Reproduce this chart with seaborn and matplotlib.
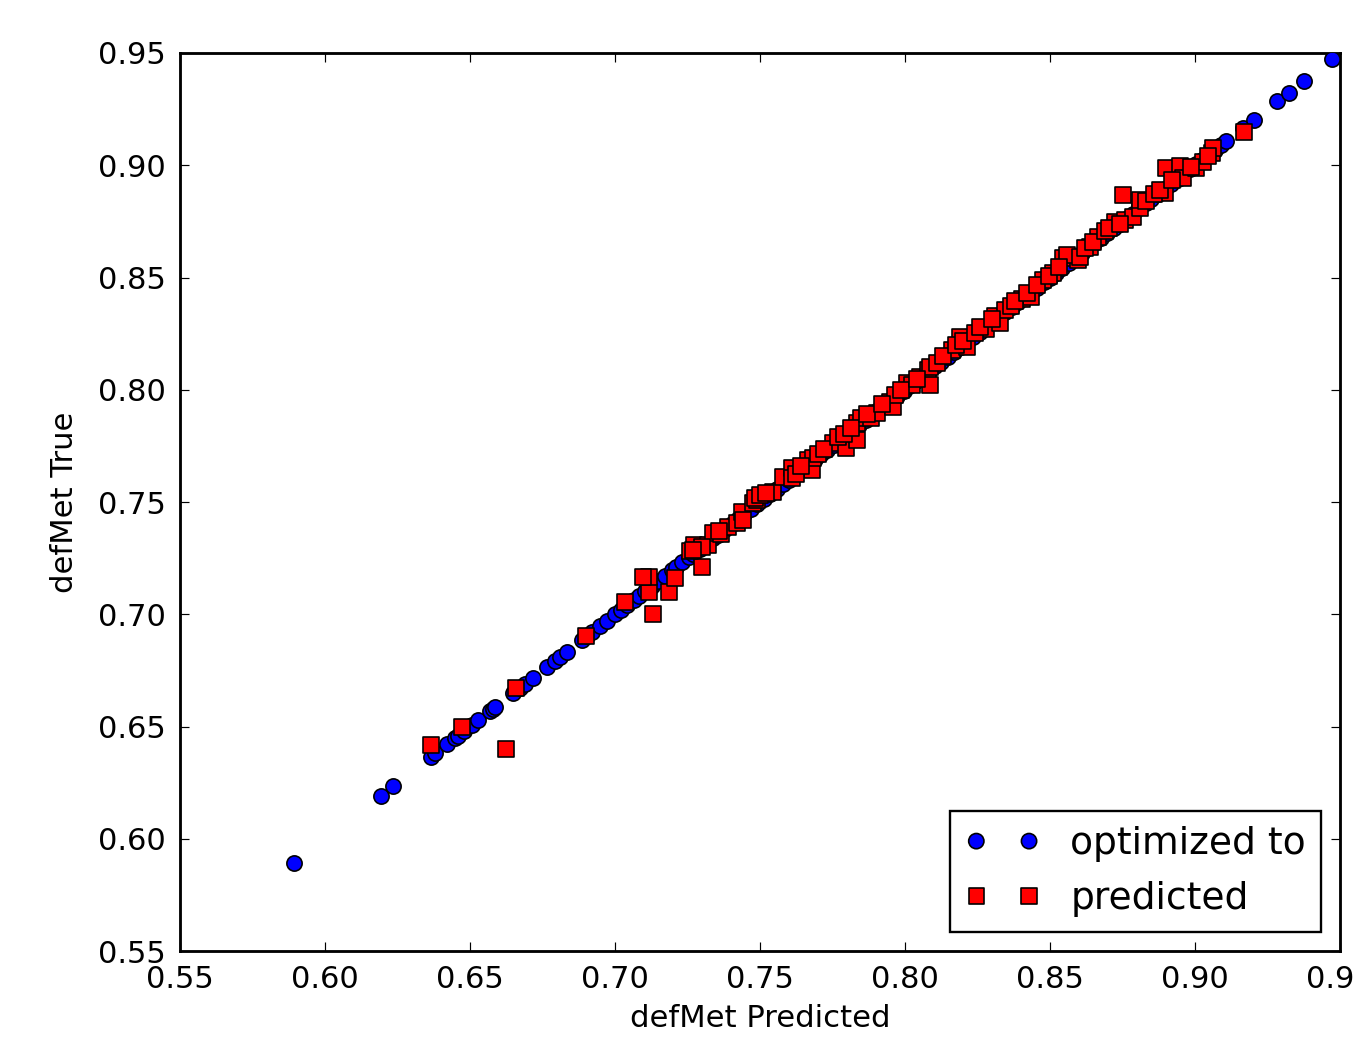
import matplotlib
matplotlib.use("Agg")
import matplotlib.pyplot as plt
import seaborn as sns
import pandas as pd

# blue points: optimized-to values (they sit on the diagonal, x == y)
optimized = [
    0.5893, 0.6192, 0.6236, 0.6366, 0.6380, 0.6420, 0.6448, 0.6460, 0.6478, 0.6506,
    0.6528, 0.6569, 0.6578, 0.6586, 0.6650, 0.6672, 0.6690, 0.6718, 0.6764, 0.6793,
    0.6810, 0.6833, 0.6885, 0.6905, 0.6920, 0.6948, 0.6971, 0.7000, 0.7020, 0.7040,
    0.7065, 0.7082, 0.7105, 0.7128, 0.7150, 0.7172, 0.7195, 0.7210, 0.7232, 0.7255,
    0.7270, 0.7292, 0.7315, 0.7338, 0.7355, 0.7380, 0.7402, 0.7425, 0.7446, 0.7470,
    0.7490, 0.7515, 0.7535, 0.7558, 0.7580, 0.7600, 0.7625, 0.7645, 0.7668, 0.7690,
    0.7712, 0.7730, 0.7755, 0.7778, 0.7800, 0.7820, 0.7842, 0.7865, 0.7885, 0.7908,
    0.7930, 0.7950, 0.7972, 0.7995, 0.8015, 0.8038, 0.8060, 0.8082, 0.8105, 0.8125,
    0.8148, 0.8170, 0.8192, 0.8212, 0.8235, 0.8258, 0.8280, 0.8300, 0.8322, 0.8345,
    0.8368, 0.8390, 0.8410, 0.8432, 0.8455, 0.8478, 0.8500, 0.8520, 0.8542, 0.8565,
    0.8588, 0.8610, 0.8630, 0.8652, 0.8675, 0.8698, 0.8720, 0.8740, 0.8762, 0.8785,
    0.8808, 0.8830, 0.8850, 0.8872, 0.8895, 0.8918, 0.8940, 0.8960, 0.8982, 0.9005,
    0.9025, 0.9048, 0.9070, 0.9090, 0.9107, 0.9166, 0.9203, 0.9284, 0.9324, 0.9376,
    0.9474,
]

# red squares: predicted (x) vs true (y)
pred_x = [
    0.6366, 0.6472, 0.6624, 0.6659, 0.6900,
    0.7034, 0.7130, 0.7118, 0.7118, 0.7098, 0.7186, 0.7207, 0.7299, 0.7259, 0.7272,
    0.7322, 0.7339, 0.7366, 0.7391, 0.7420, 0.7437, 0.7477, 0.7489,
    0.7483, 0.7546, 0.7580, 0.7609, 0.7609, 0.7667, 0.7679, 0.7683, 0.7753, 0.7797,
    0.7833, 0.7833, 0.7850, 0.7884, 0.7902, 0.7948, 0.7959, 0.7966, 0.8006, 0.8023,
    0.8052, 0.8081, 0.8086,
    0.8086, 0.8161, 0.8190, 0.8213, 0.8279, 0.8310, 0.8328, 0.8345, 0.8402, 0.8436,
    0.8477, 0.8511, 0.8546, 0.8598,
    0.8558, 0.8603, 0.8638, 0.8667, 0.8724, 0.8759, 0.8785, 0.8810, 0.8753, 0.8810,
    0.8897, 0.8900, 0.8948, 0.8960, 0.9003, 0.9029, 0.9057, 0.9063, 0.9169,
    0.7500, 0.7520, 0.7625, 0.7640, 0.7700, 0.7720, 0.7770, 0.7790, 0.7815, 0.7870,
    0.7920, 0.7985, 0.8040, 0.8110, 0.8130, 0.8175, 0.8200, 0.8240, 0.8260, 0.8300,
    0.8365, 0.8380, 0.8420, 0.8455, 0.8495, 0.8530, 0.8620, 0.8650, 0.8690, 0.8705,
    0.8740, 0.8830, 0.8860, 0.8880, 0.8920, 0.8985, 0.9045, 0.7440, 0.7360, 0.7300,
    0.7270,
]
pred_y = [
    0.6418, 0.6498, 0.6400, 0.6671, 0.6903,
    0.7056, 0.7001, 0.7098, 0.7164, 0.7167, 0.7098, 0.7160, 0.7212, 0.7282, 0.7308,
    0.7308, 0.7360, 0.7357, 0.7390, 0.7405, 0.7457, 0.7494, 0.7509,
    0.7516, 0.7546, 0.7613, 0.7650, 0.7605, 0.7687, 0.7643, 0.7694, 0.7761, 0.7742,
    0.7776, 0.7850, 0.7872, 0.7872, 0.7895, 0.7947, 0.7924, 0.7977, 0.8028, 0.8021,
    0.8058, 0.8088, 0.8021,
    0.8103, 0.8177, 0.8236, 0.8192, 0.8269, 0.8329, 0.8296, 0.8355, 0.8403, 0.8415,
    0.8489, 0.8520, 0.8585, 0.8578,
    0.8600, 0.8593, 0.8636, 0.8682, 0.8749, 0.8756, 0.8771, 0.8808, 0.8867, 0.8845,
    0.8875, 0.8986, 0.8997, 0.8942, 0.8986, 0.9016, 0.9053, 0.9075, 0.9150,
    0.7530, 0.7540, 0.7625, 0.7660, 0.7715, 0.7735, 0.7790, 0.7805, 0.7830, 0.7890,
    0.7935, 0.8000, 0.8050, 0.8120, 0.8150, 0.8200, 0.8215, 0.8255, 0.8280, 0.8315,
    0.8375, 0.8395, 0.8430, 0.8465, 0.8505, 0.8545, 0.8630, 0.8660, 0.8705, 0.8720,
    0.8740, 0.8840, 0.8870, 0.8890, 0.8935, 0.8990, 0.9040, 0.7420, 0.7370, 0.7300,
    0.7285,
]

ticks = [0.55, 0.60, 0.65, 0.70, 0.75, 0.80, 0.85, 0.90, 0.95]

sns.set_style("white")
plt.rcParams['font.family'] = ['DejaVu Sans']
plt.rcParams['text.color'] = 'black'
plt.rcParams['axes.labelcolor'] = 'black'

opt_df = pd.DataFrame({'x': optimized, 'y': optimized})
pred_df = pd.DataFrame({'x': pred_x, 'y': pred_y})

fig = plt.figure(figsize=(8, 6.118), dpi=169.5)
ax = fig.add_axes([0.1327, 0.0829, 0.8555, 0.866])

sns.scatterplot(data=opt_df, x='x', y='y', ax=ax, marker='o', color='#0000ff',
                edgecolor='black', linewidth=0.7, s=42, label='optimized to', zorder=3)
sns.scatterplot(data=pred_df, x='x', y='y', ax=ax, marker='s', color='#ff0000',
                edgecolor='black', linewidth=0.7, s=42, label='predicted', zorder=4)

ax.set_xlim(0.55, 0.95)
ax.set_ylim(0.55, 0.95)
ax.set_xticks(ticks)
ax.set_yticks(ticks)
ax.set_xticklabels([f'{t:.2f}' for t in ticks])
ax.set_yticklabels([f'{t:.2f}' for t in ticks])
ax.tick_params(direction='in', length=4, width=0.5, labelsize=13, pad=6,
               top=True, right=True, bottom=True, left=True, colors='black')

for sp in ax.spines.values():
    sp.set_color('black')
    sp.set_linewidth(1.2)

ax.set_xlabel('defMet Predicted', fontsize=13, labelpad=4)
ax.set_ylabel('defMet True', fontsize=13, labelpad=8)

leg = ax.legend(loc='lower right', scatterpoints=2, scatteryoffsets=[0.5],
                fontsize=16, fancybox=False, framealpha=1, edgecolor='black',
                borderaxespad=0.5)
leg.get_frame().set_linewidth(1.0)
for t in leg.get_texts():
    t.set_color('black')

fig.savefig('out.png', dpi=169.5)
